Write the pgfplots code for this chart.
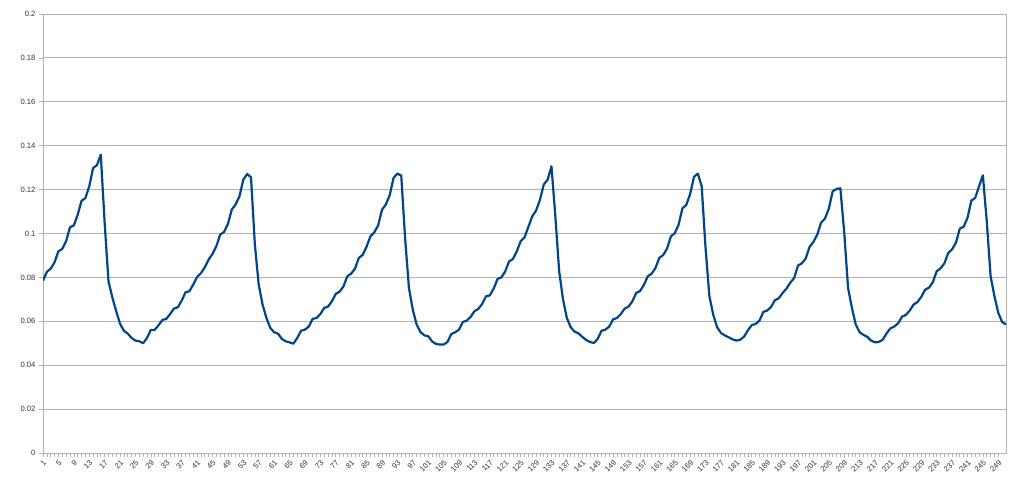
\documentclass[border=0pt]{standalone}
\usepackage{pgfplots}
\pgfplotsset{compat=1.18}
\usepackage{pgfplotstable}
\usepackage{fontspec}
\setmainfont{Liberation Sans}

\definecolor{series}{HTML}{004586}
\definecolor{gridgray}{HTML}{B3B3B3}

% one value per category, 1..251
\pgfplotstableread{
x y
1 0.0785
2 0.0825
3 0.0840
4 0.0869
5 0.0919
6 0.0930
7 0.0965
8 0.1028
9 0.1037
10 0.1085
11 0.1149
12 0.1161
13 0.1214
14 0.1298
15 0.1311
16 0.1359
17 0.1050
18 0.0782
19 0.0709
20 0.0646
21 0.0589
22 0.0557
23 0.0544
24 0.0524
25 0.0512
26 0.0509
27 0.0500
28 0.0524
29 0.0561
30 0.0561
31 0.0582
32 0.0606
33 0.0611
34 0.0633
35 0.0658
36 0.0664
37 0.0694
38 0.0732
39 0.0737
40 0.0767
41 0.0802
42 0.0819
43 0.0846
44 0.0881
45 0.0907
46 0.0942
47 0.0995
48 0.1007
49 0.1043
50 0.1109
51 0.1132
52 0.1169
53 0.1245
54 0.1271
55 0.1256
56 0.0950
57 0.0767
58 0.0676
59 0.0615
60 0.0570
61 0.0550
62 0.0544
63 0.0520
64 0.0509
65 0.0504
66 0.0498
67 0.0524
68 0.0557
69 0.0562
70 0.0576
71 0.0611
72 0.0615
73 0.0633
74 0.0661
75 0.0667
76 0.0691
77 0.0725
78 0.0735
79 0.0759
80 0.0805
81 0.0817
82 0.0840
83 0.0889
84 0.0903
85 0.0940
86 0.0987
87 0.1005
88 0.1037
89 0.1108
90 0.1132
91 0.1174
92 0.1253
93 0.1273
94 0.1264
95 0.0980
96 0.0752
97 0.0653
98 0.0585
99 0.0551
100 0.0536
101 0.0532
102 0.0509
103 0.0497
104 0.0494
105 0.0494
106 0.0506
107 0.0542
108 0.0550
109 0.0562
110 0.0597
111 0.0603
112 0.0620
113 0.0646
114 0.0656
115 0.0679
116 0.0714
117 0.0718
118 0.0749
119 0.0793
120 0.0800
121 0.0828
122 0.0873
123 0.0884
124 0.0919
125 0.0965
126 0.0982
127 0.1030
128 0.1078
129 0.1104
130 0.1153
131 0.1223
132 0.1245
133 0.1306
134 0.1080
135 0.0828
136 0.0699
137 0.0615
138 0.0573
139 0.0553
140 0.0545
141 0.0529
142 0.0515
143 0.0506
144 0.0501
145 0.0520
146 0.0557
147 0.0562
148 0.0576
149 0.0609
150 0.0615
151 0.0633
152 0.0658
153 0.0667
154 0.0691
155 0.0729
156 0.0738
157 0.0766
158 0.0805
159 0.0817
160 0.0843
161 0.0889
162 0.0902
163 0.0931
164 0.0987
165 0.1001
166 0.1040
167 0.1115
168 0.1130
169 0.1180
170 0.1258
171 0.1273
172 0.1215
173 0.0934
174 0.0714
175 0.0630
176 0.0573
177 0.0547
178 0.0536
179 0.0527
180 0.0518
181 0.0512
182 0.0516
183 0.0530
184 0.0559
185 0.0583
186 0.0588
187 0.0603
188 0.0643
189 0.0649
190 0.0665
191 0.0696
192 0.0705
193 0.0729
194 0.0749
195 0.0776
196 0.0797
197 0.0854
198 0.0864
199 0.0886
200 0.0939
201 0.0962
202 0.0995
203 0.1050
204 0.1068
205 0.1113
206 0.1192
207 0.1203
208 0.1206
209 0.1005
210 0.0752
211 0.0661
212 0.0585
213 0.0550
214 0.0538
215 0.0529
216 0.0512
217 0.0504
218 0.0506
219 0.0516
220 0.0545
221 0.0568
222 0.0576
223 0.0591
224 0.0621
225 0.0629
226 0.0649
227 0.0676
228 0.0688
229 0.0711
230 0.0744
231 0.0753
232 0.0778
233 0.0828
234 0.0841
235 0.0864
236 0.0911
237 0.0928
238 0.0958
239 0.1022
240 0.1031
241 0.1071
242 0.1150
243 0.1162
244 0.1215
245 0.1265
246 0.1056
247 0.0805
248 0.0714
249 0.0638
250 0.0597
251 0.0585
}\loaddata

\begin{document}
\begin{tikzpicture}
\begin{axis}[
    scale only axis,
    width=963bp, height=439bp,
    xmin=1, xmax=251,
    ymin=0, ymax=0.2,
    xtick={1,5,...,249},
    minor x tick num=3,
    ytick={0,0.02,0.04,0.06,0.08,0.1,0.12,0.14,0.16,0.18,0.2},
    xtick pos=bottom, ytick pos=left,
    tick align=outside,
    major tick length=4bp, minor tick length=4bp,
    ymajorgrids=true,
    grid style={gridgray, line width=0.8bp},
    axis line style={gridgray, line width=0.8bp},
    tick style={gridgray, line width=0.6bp},
    /pgf/number format/assume math mode=true,
    yticklabel style={font=\fontsize{7.7}{9}\selectfont, text=black!80,
        /pgf/number format/fixed, /pgf/number format/precision=2},
    xticklabel style={font=\fontsize{7.7}{9}\selectfont, text=black!80,
        rotate=45, anchor=north east, inner sep=1.5bp},
]
\addplot[series, line width=2.2bp, line join=round] table[x=x, y=y]{\loaddata};
\end{axis}
\pgfresetboundingbox
\path ([xshift=-43bp,yshift=-34bp]current axis.south west)
  rectangle ([xshift=21bp,yshift=14bp]current axis.north east);
\end{tikzpicture}
\end{document}
